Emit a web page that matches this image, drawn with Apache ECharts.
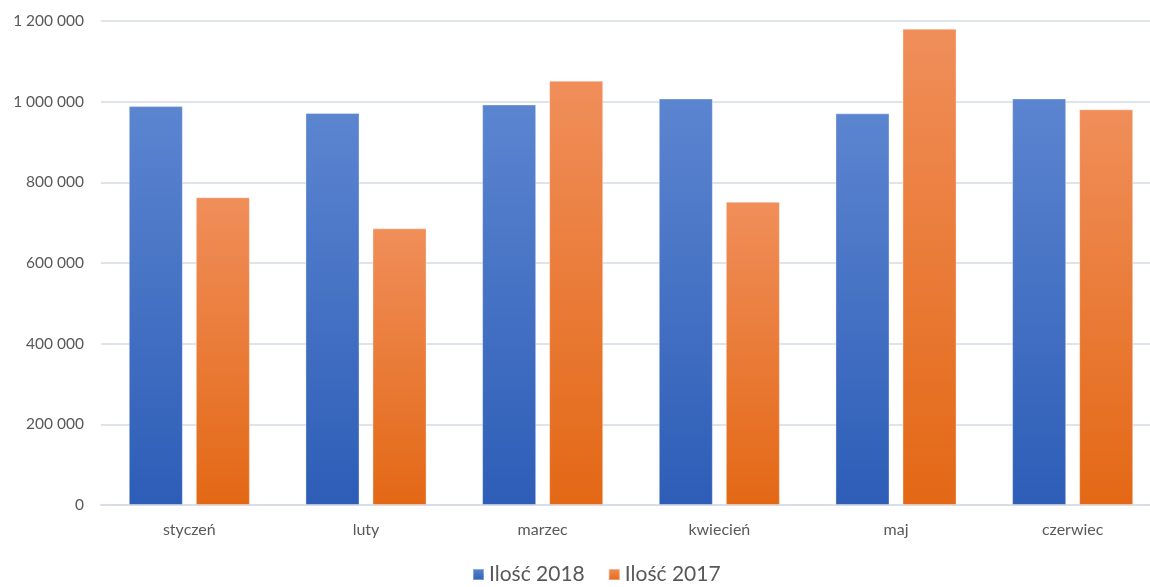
<!DOCTYPE html>
<html><head><meta charset="utf-8">
<script src="https://cdn.jsdelivr.net/npm/echarts@6/dist/echarts.min.js"></script>
<style>html,body{margin:0;padding:0;background:#fff;overflow:hidden;width:1150px;height:587px}#c{width:1161px;height:587px}</style>
</head><body><div id="c"></div>
<script>
const categories = ['styczeń','luty','marzec','kwiecień','maj','czerwiec'];
const seriesNames = ['Ilość 2018','Ilość 2017'];
const values2018 = [989000, 972000, 993000, 1008000, 971000, 1008000];
const values2017 = [763000, 686000, 1052000, 752000, 1181000, 981000];
const yTicks = {min:0, max:1200000, interval:200000};

const fmt = v => String(v).replace(/\B(?=(\d{3})+(?!\d))/g, ' ');
const grad = (top, bottom) => new echarts.graphic.LinearGradient(0,0,0,1,[{offset:0,color:top},{offset:1,color:bottom}]);
const font = 'Lato, "Open Sans", sans-serif';

const chart = echarts.init(document.getElementById('c'), null, {renderer:'canvas'});
chart.setOption({
  animation:false,
  grid:{left:101, top:21, right:0, bottom:82, containLabel:false},
  legend:{bottom:-3, left:467, itemWidth:11, itemHeight:11, itemGap:23,
    icon:'rect',
    textStyle:{fontFamily:font, fontSize:21, color:'#595959'}},
  xAxis:{type:'category', data:categories,
    axisLine:{show:true, lineStyle:{color:'#d9dde5', width:2}},
    axisTick:{show:false},
    axisLabel:{fontFamily:font, fontSize:16, color:'#595959', margin:17}},
  yAxis:{type:'value', min:yTicks.min, max:yTicks.max, interval:yTicks.interval,
    axisLine:{show:false}, axisTick:{show:false},
    splitLine:{lineStyle:{color:'#dfe3ea', width:2}},
    axisLabel:{fontFamily:font, fontSize:15.5, color:'#595959', margin:17, formatter:fmt}},
  series:[
    {name:seriesNames[0], type:'bar', data:values2018, barWidth:'30.6%', barGap:'24%',
     itemStyle:{color:grad('#5c85d0','#2d5db7'), borderColor:'rgba(255,255,255,0.35)', borderWidth:1}},
    {name:seriesNames[1], type:'bar', data:values2017, barWidth:'30.6%',
     itemStyle:{color:grad('#f08e5a','#e36815'), borderColor:'rgba(255,255,255,0.35)', borderWidth:1}}
  ]
});
</script></body></html>
